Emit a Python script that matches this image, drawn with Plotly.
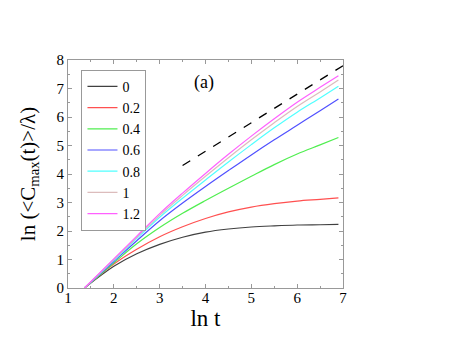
import plotly.graph_objects as go

# ln t values where curves are read
lnt = [1.36, 2.0, 2.5, 3.0, 3.5, 4.0, 4.5, 5.0, 5.5, 6.0, 6.5, 6.9]

labels = ["0", "0.2", "0.4", "0.6", "0.8", "1", "1.2"]
colori = ["#404040", "#ff5050", "#50ee50", "#5050ff", "#50ffff", "#dcbcbc", "#ff60ff"]

c0 = [0, 0.76, 1.20, 1.53, 1.78, 1.96, 2.07, 2.14, 2.18, 2.21, 2.22, 2.23]
c02 = [0, 0.84, 1.36, 1.80, 2.15, 2.44, 2.67, 2.84, 2.96, 3.05, 3.11, 3.16]
c04 = [0, 0.88, 1.55, 2.12, 2.62, 3.07, 3.50, 3.92, 4.33, 4.70, 5.02, 5.28]
c06 = [0, 0.93, 1.66, 2.36, 2.98, 3.56, 4.12, 4.67, 5.20, 5.71, 6.22, 6.63]
c08 = [0, 0.97, 1.74, 2.48, 3.15, 3.79, 4.42, 5.03, 5.62, 6.17, 6.67, 7.08]
c10 = [0, 1.00, 1.78, 2.55, 3.25, 3.92, 4.57, 5.20, 5.80, 6.37, 6.88, 7.30]
c12 = [0, 1.02, 1.82, 2.61, 3.33, 4.02, 4.69, 5.33, 5.94, 6.52, 7.04, 7.45]
curve = [c0, c02, c04, c06, c08, c10, c12]

# retta tratteggiata (pendenza 1)
dash_x = [3.5, 7.0]
dash_y = [4.3, 7.8]

font = "Liberation Serif"

fig = go.Figure()
for lab, col, yy in zip(labels, colori, curve):
    fig.add_trace(go.Scatter(x=lnt, y=yy, mode="lines", name=lab,
                             line=dict(color=col, width=1.2, shape="spline")))

fig.add_trace(go.Scatter(x=dash_x, y=dash_y, mode="lines", showlegend=False,
                         line=dict(color="black", width=1.3, dash="dash")))

fig.add_annotation(x=3.97, y=7.2, text="(a)", showarrow=False,
                   font=dict(size=18))

assi = dict(showgrid=False, zeroline=False, showline=True, mirror="allticks",
            linecolor="#999999", linewidth=1, ticks="inside", ticklen=4,
            tickcolor="#999999", tickfont=dict(size=15), automargin=False,
            minor=dict(ticks="inside", ticklen=2, tickcolor="#999999", dtick=0.5))

fig.update_xaxes(range=[1, 7], dtick=1, **assi, ticklabelstandoff=-4,
                 title=dict(text="ln t", font=dict(size=23), standoff=0))
fig.update_yaxes(range=[0, 8], dtick=1, **assi, ticklabelstandoff=0,
                 title=dict(text="ln (&lt;C<sub>max</sub>(t)&gt;/λ)",
                            font=dict(size=21), standoff=15))

# la pagina ha 8px di margine del body: margini ridotti di conseguenza
fig.update_layout(
    width=449, height=347,
    margin=dict(l=60, r=114, t=52, b=67),
    font=dict(family=font, color="black"),
    paper_bgcolor="white", plot_bgcolor="white",
    legend=dict(x=0.049, y=0.957, xanchor="left", yanchor="top",
                bordercolor="#999999", borderwidth=1, bgcolor="white",
                font=dict(size=14),
                tracegroupgap=0, itemwidth=30),
)

fig.write_html("out.html")
